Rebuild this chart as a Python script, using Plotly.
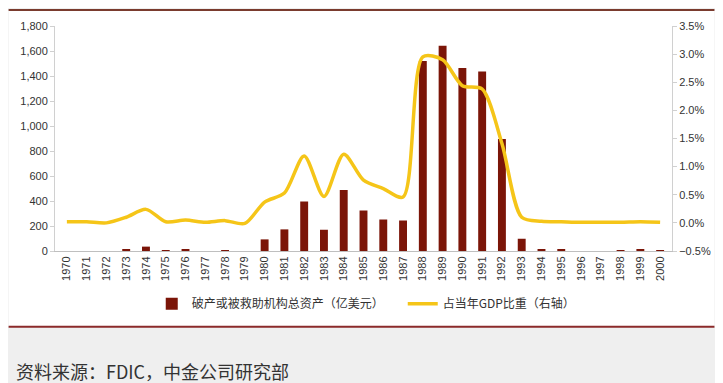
import plotly.graph_objects as go

years = [str(y) for y in range(1970, 2001)]
assets = [0, 0, 0, 12, 35, 2, 10, 0, 8, 0,
          93, 173, 396, 170, 488, 324, 252, 244, 1521, 1643,
          1465, 1436, 897, 98, 13, 10, 0, 0, 2, 12, 3]
gdp_share = [0.02, 0.02, 0.00, 0.10, 0.24, 0.02, 0.05, 0.01, 0.04, -0.01,
             0.37, 0.53, 1.19, 0.47, 1.22, 0.76, 0.61, 0.46, 2.95, 2.90,
             2.44, 2.38, 1.41, 0.10, 0.03, 0.02, 0.01, 0.01, 0.01, 0.02, 0.01]

bar_name = "破产或被救助机构总资产（亿美元）"
line_name = "占当年GDP比重（右轴）"
source_text = "资料来源：FDIC，中金公司研究部"

# page body has an 8px margin, so the figure is placed at (8, 8)
OFF = 8
PLOT_TOP, PLOT_BOTTOM, PLOT_LEFT, PLOT_RIGHT = 25, 251, 50, 675
W, H = 723 - OFF, 383 - OFF


def py(p):
    return (PLOT_BOTTOM - p) / (PLOT_BOTTOM - PLOT_TOP)


def px(p):
    return (p - PLOT_LEFT) / (PLOT_RIGHT - PLOT_LEFT)


fig = go.Figure()
fig.add_trace(go.Bar(x=years, y=assets, name=bar_name, marker_color="#7B1508",
                     marker_line_width=0))
fig.add_trace(go.Scatter(x=years, y=gdp_share, name=line_name, yaxis="y2",
                         mode="lines", line=dict(color="#F5C518", width=3.5,
                                                 shape="spline", smoothing=0.8)))

tick_font = dict(family="Liberation Sans, Arial, sans-serif", size=11, color="#333333")

fig.update_layout(
    width=W, height=H,
    margin=dict(l=PLOT_LEFT - OFF, r=(723 - PLOT_RIGHT), t=PLOT_TOP - OFF,
                b=383 - PLOT_BOTTOM),
    paper_bgcolor="#efefef",
    plot_bgcolor="white",
    bargap=0.6,
    showlegend=True,
    legend=dict(orientation="h", x=px(148), xanchor="left", y=py(304), yanchor="middle",
                entrywidth=206, entrywidthmode="pixels", bgcolor="rgba(0,0,0,0)",
                font=dict(family="Noto Sans CJK SC", size=12, color="#333333"),
                itemwidth=30),
    xaxis=dict(type="category", tickangle=-90, tickfont=tick_font, showgrid=False,
               showline=True, linecolor="#bfbfbf", linewidth=1, ticks="",
               range=[-0.6, 30.6]),
    yaxis=dict(range=[0, 1800], dtick=200, tickformat=",", tickfont=tick_font,
               showgrid=False, showline=True, linecolor="#d0d0d0", linewidth=1,
               ticks="outside", ticklen=4, tickcolor="#d0d0d0", zeroline=False),
    yaxis2=dict(range=[-0.5, 3.5], dtick=0.5, tickformat=".1f", ticksuffix="%",
                overlaying="y", side="right", tickfont=tick_font, showgrid=False,
                showline=True, linecolor="#d0d0d0", linewidth=1,
                ticks="outside", ticklen=4, tickcolor="#d0d0d0", zeroline=False),
    shapes=[
        dict(type="rect", xref="paper", yref="paper", x0=px(3), x1=px(718),
             y0=py(327), y1=py(9), fillcolor="white", line_width=0, layer="below"),
        dict(type="line", xref="paper", yref="paper", x0=px(3), x1=px(718),
             y0=py(9), y1=py(9), line=dict(color="#7a3b2e", width=2)),
        dict(type="line", xref="paper", yref="paper", x0=px(3), x1=px(718),
             y0=py(327), y1=py(327), line=dict(color="#8b2a2a", width=2)),
    ],
    annotations=[
        dict(text=source_text, xref="paper", yref="paper", x=px(8), y=py(372),
             xanchor="left", yanchor="middle", showarrow=False,
             font=dict(family="Noto Sans CJK SC", size=18, color="#333333")),
    ],
)

fig.write_html("out.html")
